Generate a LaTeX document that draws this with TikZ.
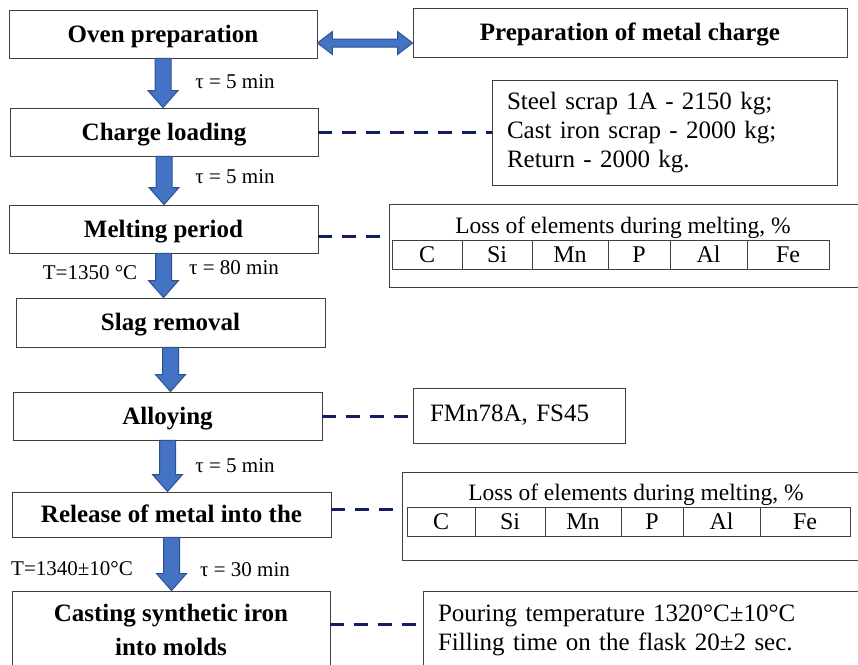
\documentclass[tikz,border=0pt]{standalone}
\usepackage{fontspec}
\setmainfont{Liberation Serif}
\usepackage{tikz}
\usetikzlibrary{calc,positioning}

\definecolor{boxline}{HTML}{404040}
\definecolor{arrowblue}{HTML}{4472C4}
\definecolor{arrowedge}{HTML}{2F528F}
\definecolor{linknavy}{RGB}{20,28,100}

\begin{document}
\begin{tikzpicture}[
    x=1pt,y=-1pt,
    stage/.style={draw=boxline,line width=0.9pt,font=\fontsize{25}{29}\selectfont\bfseries,align=center,inner sep=0pt,text depth=1pt},
    info/.style={draw=boxline,line width=0.9pt,font=\fontsize{25}{29}\selectfont,align=left,inner ysep=0pt,inner xsep=15pt},
    lossbox/.style={draw=boxline,line width=0.9pt,inner sep=0pt},
    losstitle/.style={font=\fontsize{23.5}{26}\selectfont,inner sep=0pt},
    cell/.style={draw=boxline,line width=0.9pt,font=\fontsize{24}{26}\selectfont,minimum height=29pt,inner sep=0pt,outer sep=0pt},
    tlabel/.style={font=\fontsize{21}{24}\selectfont,inner sep=0pt},
    link/.style={draw=linknavy,line width=3pt,dash pattern=on 14pt off 10pt},
    blockarrow/.style={fill=arrowblue,draw=arrowedge,line width=1pt}
]
\useasboundingbox (0,0) rectangle (858,664);
\clip (0,0) rectangle (858,664);

% process steps
\node[stage,minimum width=308pt,minimum height=48pt] (oven) at (163,34) {Oven preparation};
\node[stage,minimum width=308pt,minimum height=48pt] (charge) at (164,132) {Charge loading};
\node[stage,minimum width=309pt,minimum height=48pt] (melt) at (163.5,229) {Melting period};
\node[stage,minimum width=309pt,minimum height=49pt] (slag) at (170.5,322.5) {Slag removal};
\node[stage,minimum width=309pt,minimum height=48pt] (alloy) at (167.5,416) {Alloying};
\node[stage,minimum width=319pt,minimum height=45pt] (release) at (171.5,514.5) {Release of metal into the};
\node[stage,minimum width=318pt,minimum height=79pt] (cast) at (171,630.5) {Casting synthetic iron\\[5pt]into molds};

\node[stage,minimum width=434pt,minimum height=49pt] (prep) at (630,32.5) {Preparation of metal charge};

% side information
\node[info,text width=315pt,minimum height=105pt] (scrap) at (664.5,133) {Steel scrap 1A - 2150 kg;\\Cast iron scrap - 2000 kg;\\Return - 2000 kg.};
\node[info,text width=178pt,minimum height=55pt,inner xsep=17pt] (ferro) at (519,415.5) {FMn78A, FS45};
\node[info,text width=417pt,minimum height=79pt] (pour) at (646.5,630.5) {Pouring temperature 1320°C±10°C\\Filling time on the flask 20±2 sec.};

% losses during melting
\node[lossbox,minimum width=481pt,minimum height=83pt] (loss1) at (629.5,245.5) {};
\node[losstitle] (title1) at (623,228) {Loss of elements during melting, \%};
\node[cell,minimum width=70pt,anchor=west] (c1) at (392,254.5) {C};
\node[cell,minimum width=70pt,right=0pt of c1] (si1) {Si};
\node[cell,minimum width=76pt,right=0pt of si1] (mn1) {Mn};
\node[cell,minimum width=62pt,right=0pt of mn1] (p1) {P};
\node[cell,minimum width=77pt,right=0pt of p1] (al1) {Al};
\node[cell,minimum width=82pt,right=0pt of al1] (fe1) {Fe};

\node[lossbox,minimum width=468pt,minimum height=88pt] (loss2) at (636,516) {};
\node[losstitle] (title2) at (636,495) {Loss of elements during melting, \%};
\node[cell,minimum width=68pt,anchor=west] (c2) at (407,521.5) {C};
\node[cell,minimum width=70pt,right=0pt of c2] (si2) {Si};
\node[cell,minimum width=76pt,right=0pt of si2] (mn2) {Mn};
\node[cell,minimum width=62pt,right=0pt of mn2] (p2) {P};
\node[cell,minimum width=77pt,right=0pt of p2] (al2) {Al};
\node[cell,minimum width=90pt,right=0pt of al2] (fe2) {Fe};

% block arrows
\foreach \a/\b in {oven/charge,charge/melt,melt/slag,slag/alloy,alloy/release,release/cast}
  \draw[blockarrow] let \p1=(\a.south), \p2=(\b.north) in
    (\x1-8pt,\y1) -- (\x1+8pt,\y1) -- (\x1+8pt,\y2+17pt) -- (\x1+15pt,\y2+17pt)
    -- (\x1,\y2) -- (\x1-15pt,\y2+17pt) -- (\x1-8pt,\y2+17pt) -- cycle;

\draw[blockarrow] let \p1=([yshift=-9pt]oven.east), \p2=([yshift=-9pt]prep.west) in
  (\x1,\y1) -- (\x1+15pt,\y1+11.5pt) -- (\x1+15pt,\y1+4pt) -- (\x2-15pt,\y1+4pt)
  -- (\x2-15pt,\y1+11.5pt) -- (\x2,\y1) -- (\x2-15pt,\y1-11.5pt) -- (\x2-15pt,\y1-4pt)
  -- (\x1+15pt,\y1-4pt) -- (\x1+15pt,\y1-11.5pt) -- cycle;

% dashed links
\draw[link] (charge.east) -- (charge.east -| scrap.west);
\draw[link] ([yshift=-7pt]melt.east) -- ([yshift=-7pt]melt.east -| loss1.west);
\draw[link] (alloy.east) -- (alloy.east -| ferro.west);
\draw[link] ([yshift=5pt]release.east) -- ([yshift=5pt]release.east -| loss2.west);
\draw[link] ([yshift=6pt]cast.east) -- ([yshift=6pt]cast.east -| pour.west);

% time and temperature labels
\node[tlabel] (t1) at (235,82) {τ = 5 min};
\node[tlabel] (t2) at (235,177) {τ = 5 min};
\node[tlabel] (t3) at (234,268) {τ = 80 min};
\node[tlabel] (temp1) at (90,273) {T=1350 °C};
\node[tlabel] (t4) at (235,466) {τ = 5 min};
\node[tlabel] (temp2) at (72,569) {T=1340±10°C};
\node[tlabel] (t5) at (245,570) {τ = 30 min};
\end{tikzpicture}
\end{document}
